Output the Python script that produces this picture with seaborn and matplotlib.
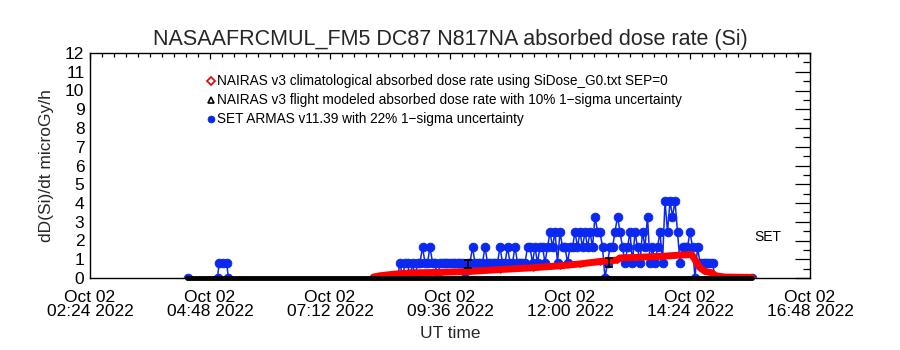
import numpy as np
import pandas as pd
import matplotlib
matplotlib.use("Agg")
import matplotlib.pyplot as plt
import matplotlib.dates as mdates
from matplotlib.ticker import AutoMinorLocator, MultipleLocator
import seaborn as sns

DAY = "2022-10-02 "

# ---------------- data ----------------
# SET ARMAS: early part (sparse samples)
armas_early_times = ["04:22", "04:57", "04:59", "05:03", "05:08", "05:10", "08:33"]
armas_early_vals = [0.0, 0.0, 0.82, 0.82, 0.82, 0.0, 0.0]

# SET ARMAS: main part, 3-minute samples starting at 08:36
armas_start = "08:36"
armas_vals = [
    0.82, 0.0, 0.82, 0.82, 0.0, 0.82, 0.0, 0.82, 0.82, 1.64,
    0.82, 0.82, 1.64, 0.82, 0.82, 0.0, 0.82, 0.82, 0.82, 0.82,
    0.82, 0.82, 0.82, 0.82, 0.82, 0.82, 0.0, 0.82, 0.82, 1.64,
    0.82, 0.82, 0.82, 0.82, 1.64, 0.82, 0.82, 0.82, 0.82, 0.82,
    1.64, 0.82, 0.82, 1.64, 0.82, 0.82, 1.64, 0.82, 0.82, 0.82,
    0.82, 1.64, 1.64, 0.82, 1.64, 0.82, 1.64, 1.64, 0.82, 1.64,
    2.46, 1.64, 2.46, 0.82, 2.46, 1.64, 1.64, 0.82, 1.64, 1.64,
    2.46, 1.64, 2.46, 1.64, 2.46, 1.64, 2.46, 1.64, 3.28, 2.46,
    2.46, 1.64, 0.0, 0.82, 1.64, 1.64, 2.46, 3.28, 2.46, 1.64,
    0.82, 1.64, 2.46, 0.82, 2.46, 1.64, 0.82, 2.46, 1.64, 3.28,
    0.82, 1.64, 0.82, 1.64, 2.46, 0.82, 4.10, 2.46, 4.10, 3.28,
    4.10, 2.46, 0.82, 1.64, 1.64, 1.64, 2.46, 1.64, 0.0, 1.64,
    0.82, 0.82, 0.82, 0.82, 0.82, 0.82,
]
armas_late_times = ["14:54", "15:38"]
armas_late_vals = [0.0, 0.0]

# NAIRAS climatological (red)
clim_times = ["08:04", "08:12", "08:28", "08:48", "09:24", "10:00", "10:36",
              "11:16", "11:48", "12:12", "12:36", "12:56", "13:00", "13:48",
              "14:12", "14:26", "14:31", "14:36", "14:42", "14:50", "14:55",
              "15:06", "15:38"]
clim_vals = [0.05, 0.12, 0.2, 0.27, 0.3, 0.35, 0.45, 0.55, 0.65, 0.75, 0.88,
             0.95, 1.07, 1.15, 1.22, 1.25, 0.9, 0.55, 0.35, 0.28, 0.12, 0.05,
             0.03]

# NAIRAS flight modeled (black)
flight_times = ["04:20", "15:38"]
flight_vals = [0.0, 0.0]
flight_err_times = ["09:58", "12:47"]
flight_err_vals = [0.75, 0.83]
flight_err_sig = [0.2, 0.24]

# axis ticks
xtick_times = ["02:24", "04:48", "07:12", "09:36", "12:00", "14:24", "16:48"]
ytick_vals = list(range(0, 13))

title = "NASAAFRCMUL_FM5 DC87 N817NA absorbed dose rate (Si)"
legend_labels = [
    "NAIRAS v3 climatological absorbed dose rate using SiDose_G0.txt SEP=0",
    "NAIRAS v3 flight modeled absorbed dose rate with 10% 1\u2212sigma uncertainty",
    "SET ARMAS v11.39 with 22% 1\u2212sigma uncertainty",
]

# ---------------- build frames ----------------
def ts(lst):
    return pd.to_datetime([DAY + t for t in lst])

main_times = pd.date_range(DAY + armas_start, periods=len(armas_vals), freq="3min")
armas = pd.DataFrame({
    "time": list(ts(armas_early_times)) + list(main_times) + list(ts(armas_late_times)),
    "dose": armas_early_vals + armas_vals + armas_late_vals,
})
clim = pd.DataFrame({"time": ts(clim_times), "dose": clim_vals})
flight = pd.DataFrame({"time": ts(flight_times), "dose": flight_vals})

# ---------------- plot ----------------
sns.set_theme(style="white")
plt.rcParams["font.family"] = ["Liberation Sans", "DejaVu Sans"]

fig = plt.figure(figsize=(9, 3.5), dpi=100)
ax = fig.add_axes([0.1, 72 / 350, 0.8, 225 / 350])

BLUE = "#0a28f0"
sns.lineplot(data=armas, x="time", y="dose", ax=ax, color=BLUE, linewidth=1.1,
             marker="o", markersize=6.3, markeredgecolor=BLUE, markerfacecolor=BLUE,
             markeredgewidth=0.6, zorder=2, estimator=None, sort=False)
sns.lineplot(data=clim, x="time", y="dose", ax=ax, color="#ff0000", linewidth=5,
             marker="D", markersize=3, markerfacecolor="none",
             markeredgecolor="#ff0000", zorder=3, estimator=None)
sns.lineplot(data=flight, x="time", y="dose", ax=ax, color="black", linewidth=3.5,
             zorder=5, estimator=None)
for line in ax.lines[-1:]:
    line.set_clip_on(False)
ax.errorbar(ts(flight_err_times), flight_err_vals, yerr=flight_err_sig,
            fmt="none", ecolor="black", elinewidth=1.2, capsize=3, capthick=1.2,
            zorder=6)

# axes limits and ticks
x0 = pd.Timestamp(DAY + xtick_times[0])
x1 = pd.Timestamp(DAY + xtick_times[-1])
ax.set_xlim(x0, x1)
ax.set_ylim(0, 12)
ax.set_xticks(ts(xtick_times),
              labels=["Oct 02\n" + t + " 2022" for t in xtick_times])
ax.xaxis.set_minor_locator(AutoMinorLocator(10))
ax.set_yticks(ytick_vals, labels=[str(v) for v in ytick_vals])
ax.yaxis.set_minor_locator(MultipleLocator(0.5))
for lbl in ax.get_xticklabels():
    lbl.set_linespacing(0.85)

ax.tick_params(axis="both", which="both", direction="in", top=True, right=True,
               color="black", width=0.9, labelsize=12.5, labelcolor="#000000")
ax.tick_params(axis="x", which="major", length=4.5, pad=9)
ax.tick_params(axis="x", which="minor", length=3)
ax.tick_params(axis="y", which="major", length=10.5, pad=4)
ax.tick_params(axis="y", which="minor", length=5)
for s in ax.spines.values():
    s.set_color("black")
    s.set_linewidth(1.0)

ax.set_xlabel("UT time", fontsize=12.5, labelpad=5)
ax.set_ylabel("dD(Si)/dt microGy/h", fontsize=12.5, labelpad=8)
ax.set_title(title, fontsize=15.5, pad=6)

# legend (drawn as text lines like the original)
leg_y = [0.876, 0.791, 0.707]
leg_mk = [dict(marker="D", mfc="none", mec="#e00000", ms=4, mew=1.2),
          dict(marker="^", mfc="none", mec="black", ms=4.5, mew=1.2),
          dict(marker="o", mfc=BLUE, mec=BLUE, ms=5, mew=0.5)]
for yy, lab, mk in zip(leg_y, legend_labels, leg_mk):
    ax.plot([0.168], [yy], transform=ax.transAxes, linestyle="none", **mk)
    ax.text(0.177, yy, lab, transform=ax.transAxes, fontsize=9.8,
            va="center", ha="left", color="black")

ax.text(0.942, 0.182, "SET", transform=ax.transAxes, fontsize=10,
        ha="center", va="center", color="black")

ax.grid(False)
fig.savefig("out.png", dpi=100)
